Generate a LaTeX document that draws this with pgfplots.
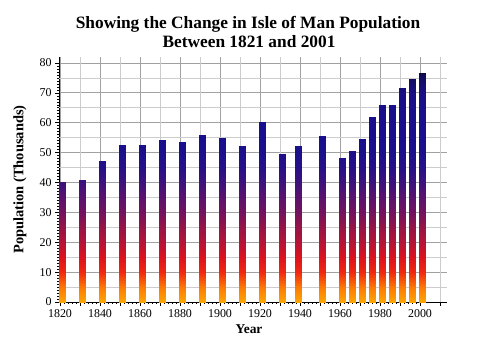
\documentclass[border=0pt]{standalone}
\usepackage{pgfplots}
\pgfplotsset{compat=1.18}
\usepgfplotslibrary{patchplots}
\usepackage{fontspec}
\setmainfont{Liberation Serif}

\newcommand\popbar[2]{%
  \pgfmathsetmacro\xa{#1-1.65}%
  \pgfmathsetmacro\xb{#1+1.65}%
  \edef\next{\noexpand\addplot[patch, patch type=rectangle, shader=interp, point meta=y, forget plot] coordinates {(\xa,0) (\xb,0) (\xb,#2) (\xa,#2)};}%
  \next}

\begin{document}
\begin{tikzpicture}[x=1bp,y=1bp]
\path[use as bounding box] (0,0) rectangle (500,350);
\begin{axis}[
  at={(59bp,48bp)}, anchor=south west,
  scale only axis, width=388bp, height=245bp,
  xmin=1819.5, xmax=2013.5, ymin=0, ymax=82,
  axis lines=left, axis line style={-, black, line width=0.8bp},
  tick align=outside,
  major tick length=4bp, minor tick length=2bp,
  every tick/.style={black, line width=0.6bp},
  xtick={1820,1840,...,2000}, minor x tick num=9,
  ytick={0,10,...,80}, minor y tick num=9,
  extra x ticks={1830,1850,...,2010}, extra x tick labels={},
  extra x tick style={grid=major, major grid style={draw=black!20, line width=0.8bp}},
  extra y ticks={5,15,...,75}, extra y tick labels={},
  extra y tick style={grid=major, major grid style={draw=black!20, line width=0.8bp}, major tick length=2bp},
  grid=major, major grid style={draw=black!37, line width=0.8bp},
  /pgf/number format/assume math mode=true,
  xticklabel={\pgfmathprintnumber[1000 sep={}]{\tick}},
  tick label style={font=\fontsize{12}{12}\selectfont},
  colormap={fire}{rgb255=(255,165,0) rgb255=(252,120,5) rgb255=(240,40,15) rgb255=(220,18,30) rgb255=(180,20,55) rgb255=(150,20,70) rgb255=(115,18,95) rgb255=(90,18,110) rgb255=(60,18,125) rgb255=(38,16,135) rgb255=(27,15,140) rgb255=(25,15,140) rgb255=(25,15,140) rgb255=(25,15,138) rgb255=(24,15,132) rgb255=(18,12,95) rgb255=(0,0,20)},
  point meta min=0, point meta max=80,
  xlabel={Year}, ylabel={Population (Thousands)},
  every axis x label/.style={at={([xshift=-4bp,yshift=-31bp]axis description cs:0.5,0)}, anchor=base, font=\bfseries\fontsize{13.5}{14}\selectfont},
  every axis y label/.style={at={([xshift=-39bp]axis description cs:0,0.5)}, anchor=center, rotate=90, font=\bfseries\fontsize{14.5}{15}\selectfont},
]
\popbar{1821}{40.1}
\popbar{1831}{41.0}
\popbar{1841}{47.1}
\popbar{1851}{52.4}
\popbar{1861}{52.4}
\popbar{1871}{54.1}
\popbar{1881}{53.7}
\popbar{1891}{55.8}
\popbar{1901}{54.8}
\popbar{1911}{52.1}
\popbar{1921}{60.4}
\popbar{1931}{49.4}
\popbar{1939}{52.1}
\popbar{1951}{55.4}
\popbar{1961}{48.1}
\popbar{1966}{50.4}
\popbar{1971}{54.7}
\popbar{1976}{61.8}
\popbar{1981}{66.1}
\popbar{1986}{66.1}
\popbar{1991}{71.5}
\popbar{1996}{74.8}
\popbar{2001}{76.5}
\end{axis}
\node[anchor=base, font=\bfseries\fontsize{17.4}{18}\selectfont] at (248,322) {Showing the Change in Isle of Man Population};
\node[anchor=base, font=\bfseries\fontsize{17.4}{18}\selectfont] at (249,303) {Between 1821 and 2001};
\end{tikzpicture}
\end{document}
